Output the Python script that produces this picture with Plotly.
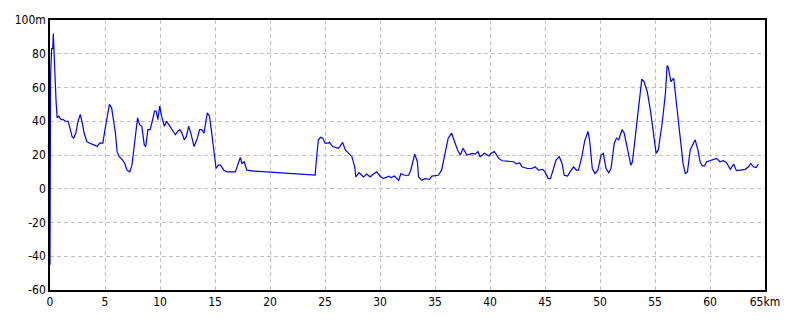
import plotly.graph_objects as go

distance_km = [0, 0.02, 0.05, 0.15, 0.25, 0.3, 0.35, 0.45, 0.55, 0.65, 0.8, 1.0, 1.2, 1.4, 1.65,
               1.85, 2.0, 2.15, 2.35, 2.55, 2.75, 2.9, 3.1, 3.35, 3.6, 4.0, 4.3, 4.5, 4.8,
               5.0, 5.2, 5.4, 5.6, 5.8, 5.95, 6.1, 6.3, 6.6, 6.8, 7.0, 7.25, 7.45, 7.65,
               7.8, 7.96, 8.15, 8.35, 8.57, 8.7, 8.9, 9.1, 9.3, 9.5, 9.65, 9.8, 9.97, 10.15,
               10.4, 10.6, 10.8, 11.0, 11.2, 11.4, 11.6, 11.8, 12.0, 12.2, 12.4, 12.6, 12.8,
               13.1, 13.4, 13.6, 13.8, 14.0, 14.3, 14.5, 14.7, 14.9, 15.1, 15.3, 15.5,
               15.8, 16.1, 16.85, 17.05, 17.3, 17.45, 17.65, 17.9, 18.5, 19.7, 21.1, 22.3,
               23.5, 24.1, 24.3, 24.4, 24.6, 24.8, 25.0, 25.3, 25.4, 25.7, 26.2, 26.35,
               26.6, 26.85, 27.15, 27.45, 27.7, 27.8, 28.1, 28.5, 28.8, 29.1, 29.4, 29.7,
               30.0, 30.3, 30.8, 31.0, 31.3, 31.7, 31.9, 32.2, 32.6, 32.8, 33.15, 33.4,
               33.5, 33.8, 34.1, 34.5, 34.7, 35.3, 35.6, 35.9, 36.2, 36.5, 36.75, 37.05,
               37.3, 37.55, 37.9, 38.4, 38.65, 38.9, 39.1, 39.5, 39.9, 40.1, 40.4, 40.8,
               41.1, 42.15, 42.4, 42.7, 42.9, 43.4, 43.8, 44.1, 44.4, 44.8, 45.0, 45.3,
               45.5, 45.8, 46.0, 46.3, 46.55, 46.75, 47.05, 47.35, 47.6, 47.85, 48.05,
               48.35, 48.6, 48.9, 49.05, 49.3, 49.55, 49.8, 50.1, 50.3, 50.55, 50.8, 51.0,
               51.3, 51.5, 51.7, 52.0, 52.2, 52.6, 52.8, 52.95, 53.2, 53.5, 53.8, 54.0,
               54.3, 54.6, 54.9, 55.1, 55.3, 55.65, 55.95, 56.1, 56.2, 56.45, 56.7, 56.9,
               57.2, 57.55, 57.75, 57.95, 58.2, 58.45, 58.65, 58.9, 59.1, 59.3, 59.5, 59.7,
               60.2, 60.6, 60.9, 61.2, 61.5, 61.85, 62.15, 62.4, 62.75, 63.2, 63.5, 63.7,
               63.95, 64.2, 64.4]
elevation_m = [-45, 8, 67, 83, 83, 92, 82, 65, 52, 42, 43, 41, 41, 40, 40,
               35, 31, 30, 33, 40, 44, 40, 33, 28, 27, 26, 25, 27, 27,
               35, 43, 50, 48, 40, 33, 22, 19, 17, 15, 11, 10, 14, 25,
               35, 42, 38, 37, 26, 25, 35, 35, 40, 46, 46, 41, 49, 43,
               37, 40, 38, 36, 34, 32, 34, 35, 33, 29, 31, 37, 33,
               25, 30, 35, 35, 33, 45, 43, 33, 23, 12, 14, 14,
               11, 10, 10, 14, 18.5, 15, 16, 11, 10.5, 10, 9.3, 8.7,
               8.1, 8.1, 23, 29, 30.5, 30, 27, 27, 27.5, 25, 24, 25,
               27.5, 23, 21, 19, 13, 7, 9.5, 7, 8.7, 7, 8.7, 10,
               7.5, 6, 7.5, 6.5, 7.5, 5, 9, 8, 8, 11, 20.5, 16,
               7, 5, 6, 5.6, 7.5, 8, 11, 21, 30, 33, 28, 23,
               20, 24, 20, 21, 20.5, 22, 19, 21, 19.4, 21, 22, 18,
               16.6, 16, 14.7, 15.3, 13, 12, 12, 13, 11, 11.5, 10, 6,
               6, 13, 17, 19, 15, 8, 7.5, 10.7, 13, 11, 11,
               19, 28, 34, 29, 12, 9, 11, 20, 21, 12, 9.5, 12,
               27, 30, 29, 35, 33, 19, 14, 16, 31, 50, 65, 63.5,
               57.5, 45.7, 31, 21, 23, 38.8, 56.6, 73, 72, 63.5, 65.5, 54.5,
               34.8, 15, 9, 10, 23, 26, 29, 23, 16, 13.5, 13.5, 16,
               17, 18, 16, 16.6, 15.5, 11.5, 14.7, 10.7, 11, 11.5, 13, 15,
               13, 12.5, 14.7]

x_ticks = [0, 5, 10, 15, 20, 25, 30, 35, 40, 45, 50, 55, 60, 65]
x_tick_labels = ["0", "5", "10", "15", "20", "25", "30", "35", "40", "45", "50", "55", "60", "65km"]
y_ticks = [-60, -40, -20, 0, 20, 40, 60, 80, 100]
y_tick_labels = ["-60", "-40", "-20", "0", "20", "40", "60", "80", "100m"]

font = dict(family="Liberation Sans Narrow, DejaVu Sans Condensed, Noto Sans CJK JP", size=12, color="black")

fig = go.Figure()
fig.add_trace(go.Scatter(x=distance_km, y=elevation_m, mode="lines",
                         line=dict(color="#0000ff", width=1.2), hoverinfo="skip"))

axis_common = dict(showline=True, linecolor="black", linewidth=1.5, mirror=True,
                   showgrid=True, gridcolor="#c0c0c0", griddash="4px,3px", gridwidth=1,
                   zeroline=False, ticks="", tickfont=font)
fig.update_xaxes(range=[0, 65], tickvals=x_ticks, ticktext=x_tick_labels, **axis_common)
fig.update_yaxes(range=[-60, 100], tickvals=y_ticks, ticktext=y_tick_labels, **axis_common)

fig.update_layout(width=800, height=320, margin=dict(l=50, r=35, t=20, b=30),
                  paper_bgcolor="white", plot_bgcolor="white", showlegend=False,
                  font=font)
fig.write_html("out.html")
